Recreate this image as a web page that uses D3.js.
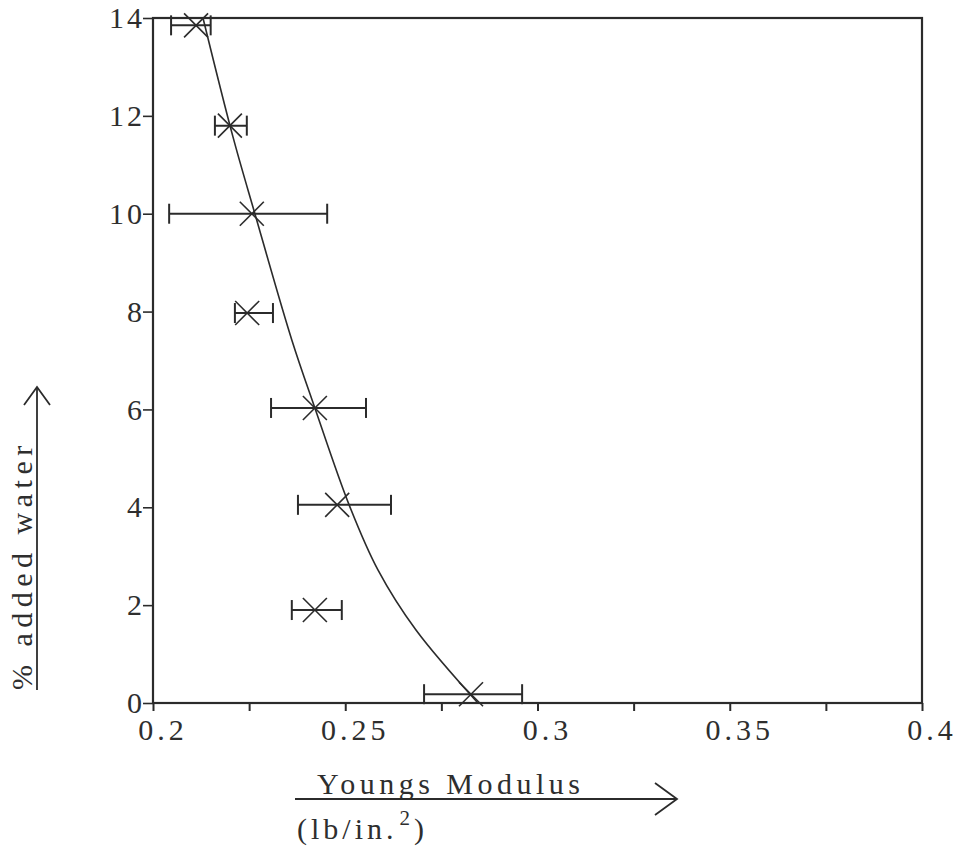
<!DOCTYPE html>
<html>
<head>
<meta charset="utf-8">
<script src="https://cdn.jsdelivr.net/npm/d3@7"></script>
<style>
  html, body { margin: 0; padding: 0; background: #ffffff; }
  svg { display: block; }
  text { font-family: "Liberation Serif", "DejaVu Serif", serif; fill: #2e2e2e; }
</style>
</head>
<body>
<svg id="chart" width="960" height="847"></svg>
<script>
// Measured samples: % added water vs Young's modulus (lb/in.^2)
const water   = [13.85, 11.8, 10.0, 7.97, 6.03, 4.05, 1.9, 0.18];
const modulus = [0.2112, 0.2200, 0.2257, 0.2245, 0.2421, 0.2479, 0.2421, 0.2827];
const modLow  = [0.2047, 0.2161, 0.2042, 0.2213, 0.2307, 0.2377, 0.2361, 0.2705];
const modHigh = [0.2150, 0.2244, 0.2453, 0.2312, 0.2554, 0.2619, 0.2491, 0.2960];

// Hand-fitted trend curve through the points
const curveModulus = [0.2130, 0.2208, 0.2265, 0.2361, 0.2421, 0.2510, 0.2585, 0.2684, 0.2845];
const curveWater   = [14.0, 11.57, 10.0, 7.42, 6.03, 4.05, 2.72, 1.49, 0.0];

// Axis ticks and labels
const xTicks      = [0.2, 0.225, 0.25, 0.275, 0.3, 0.325, 0.35, 0.375, 0.4];
const xTickLabels = ["0.2", "0.25", "0.3", "0.35", "0.4"];
const yTicks      = [0, 2, 4, 6, 8, 10, 12, 14];

const ink = "#2b2b2b";
const margin = { left: 153, top: 18, right: 38, bottom: 144 };
const W = 960, H = 847;
const svg = d3.select("#chart");

const x = d3.scaleLinear().domain([0.2, 0.4]).range([margin.left, W - margin.right]);
const y = d3.scaleLinear().domain([0, 14]).range([H - margin.bottom, margin.top]);

// Frame
svg.append("rect")
  .attr("x", x(0.2)).attr("y", y(14))
  .attr("width", x(0.4) - x(0.2)).attr("height", y(0) - y(14))
  .attr("fill", "none").attr("stroke", ink).attr("stroke-width", 2.2);

// Bottom axis: ticks every 0.025, labels every 0.05
const xAxis = svg.append("g")
  .attr("transform", `translate(0,${y(0)})`)
  .call(d3.axisBottom(x).tickValues(xTicks).tickSize(8).tickFormat(""));
xAxis.select(".domain").remove();
xAxis.selectAll("line").attr("stroke", ink).attr("stroke-width", 2);

svg.append("g").selectAll("text")
  .data(xTickLabels)
  .join("text")
  .attr("x", d => x(+d) + 10)
  .attr("y", y(0) + 37)
  .attr("text-anchor", "middle")
  .attr("font-size", 30)
  .attr("letter-spacing", 4)
  .text(d => d);

// Left axis
const yAxis = svg.append("g")
  .attr("transform", `translate(${x(0.2)},0)`)
  .call(d3.axisLeft(y).tickValues(yTicks).tickSize(10).tickPadding(-2).tickFormat(d3.format("d")));
yAxis.select(".domain").remove();
yAxis.selectAll("line").attr("stroke", ink).attr("stroke-width", 1.6);
yAxis.selectAll("text")
  .attr("font-size", 30)
  .attr("font-family", "Liberation Serif, serif")
  .attr("fill", "#2e2e2e")
  .attr("letter-spacing", 3);

// Trend curve
const pts = curveModulus.map((m, i) => [m, curveWater[i]]);
svg.append("path")
  .datum(pts)
  .attr("fill", "none")
  .attr("stroke", ink)
  .attr("stroke-width", 1.6)
  .attr("d", d3.line().x(d => x(d[0])).y(d => y(d[1])).curve(d3.curveCatmullRom.alpha(0.5)));

// Error bars and X markers
const rows = water.map((w, i) => ({ w, m: modulus[i], lo: modLow[i], hi: modHigh[i] }));
const capH = 10, mk = 12;
const g = svg.append("g").attr("stroke", ink).attr("stroke-width", 2).attr("fill", "none");
rows.forEach(r => {
  const cy = y(r.w), cx = x(r.m);
  g.append("line").attr("x1", x(r.lo)).attr("x2", x(r.hi)).attr("y1", cy).attr("y2", cy);
  g.append("line").attr("x1", x(r.lo)).attr("x2", x(r.lo)).attr("y1", cy - capH).attr("y2", cy + capH);
  g.append("line").attr("x1", x(r.hi)).attr("x2", x(r.hi)).attr("y1", cy - capH).attr("y2", cy + capH);
  g.append("line").attr("x1", cx - mk).attr("x2", cx + mk).attr("y1", cy - mk).attr("y2", cy + mk).attr("stroke-width", 1.6);
  g.append("line").attr("x1", cx - mk).attr("x2", cx + mk).attr("y1", cy + mk).attr("y2", cy - mk).attr("stroke-width", 1.6);
});

// X axis title with underline arrow
svg.append("text")
  .attr("x", 317).attr("y", 794)
  .attr("font-size", 30).attr("letter-spacing", 4.5)
  .text("Youngs Modulus");
svg.append("line")
  .attr("x1", 295).attr("x2", 677).attr("y1", 799).attr("y2", 799)
  .attr("stroke", ink).attr("stroke-width", 1.8);
svg.append("path")
  .attr("d", "M655,783 L677,799 L655,815")
  .attr("fill", "none").attr("stroke", ink).attr("stroke-width", 1.8);
const unit = svg.append("text")
  .attr("x", 297).attr("y", 839)
  .attr("font-size", 30).attr("letter-spacing", 4);
unit.append("tspan").text("(lb/in.");
unit.append("tspan").attr("dy", -14).attr("dx", 2).attr("font-size", 21).text("2");
unit.append("tspan").attr("dy", 14).text(")");

// Y axis title with underline arrow
svg.append("text")
  .attr("transform", "translate(32,690) rotate(-90)")
  .attr("font-size", 30).attr("letter-spacing", 5.5)
  .text("% added water");
svg.append("line")
  .attr("x1", 37).attr("x2", 37).attr("y1", 690).attr("y2", 387)
  .attr("stroke", ink).attr("stroke-width", 1.8);
svg.append("path")
  .attr("d", "M24,405 L37,387 L50,405")
  .attr("fill", "none").attr("stroke", ink).attr("stroke-width", 1.8);
</script>
</body>
</html>
